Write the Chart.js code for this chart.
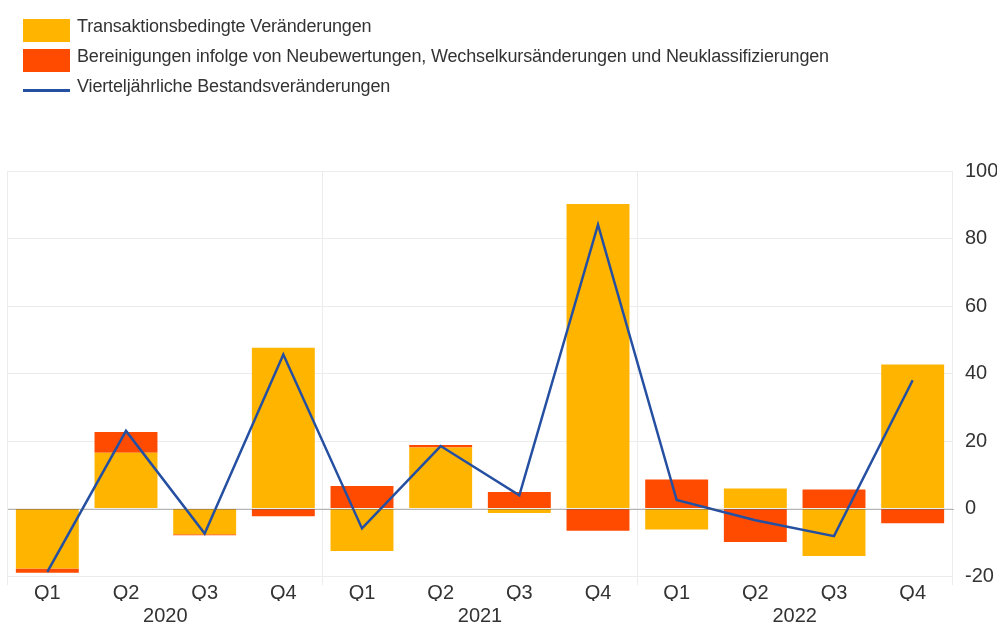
<!DOCTYPE html>
<html>
<head>
<meta charset="utf-8">
<script src="https://cdn.jsdelivr.net/npm/chart.js@4/dist/chart.umd.min.js"></script>
<style>
  html, body { margin: 0; padding: 0; background: #fff; width: 1004px; height: 626px; overflow: hidden; }
  #wrap { position: relative; width: 1004px; height: 640px; }
  #legend { position: absolute; left: 23px; top: 19px; font-family: "Liberation Sans", Arial, Helvetica, sans-serif; font-size: 18px; color: #333; }
  .item { position: relative; height: 30px; }
  .sw { position: absolute; left: 0; top: 0; width: 47px; height: 23px; }
  .tx { position: absolute; left: 54px; top: -3px; white-space: nowrap; letter-spacing: -0.15px; }
  canvas { position: absolute; left: 0; top: 0; }
</style>
</head>
<body>
<div id="wrap">
  <canvas id="c" width="1004" height="640"></canvas>
  <div id="legend"></div>
</div>
<script>
const quarters = ['Q1','Q2','Q3','Q4','Q1','Q2','Q3','Q4','Q1','Q2','Q3','Q4'];
const years = ['2020','2021','2022'];
const seriesNames = [
  'Transaktionsbedingte Veränderungen',
  'Bereinigungen infolge von Neubewertungen, Wechselkursänderungen und Neuklassifizierungen',
  'Vierteljährliche Bestandsveränderungen'
];
const transactions = [-17.8, 16.5, -7.6, 47.6, -12.6, 18.1, -1.3, 90.2, -6.2, 5.9, -14.1, 42.7];
const adjustments = [-1.2, 6.2, -0.3, -2.3, 6.7, 0.7, 4.9, -6.6, 8.6, -9.9, 5.6, -4.4];
const totalChange = [-18.8, 23.0, -7.4, 45.6, -5.9, 18.5, 3.9, 84.1, 2.5, -3.5, -8.2, 38.0];
const yTicks = { min: -20, max: 100, step: 20 };

const YELLOW = '#FFB400', RED = '#FF4B00', BLUE = '#2550A2';
const FONT = "'Liberation Sans', Arial, Helvetica, sans-serif";
const GRID = '#ececec';

const zeroLine = {
  id: 'zeroLine',
  afterDatasetsDraw(chart) {
    const y = chart.scales.y.getPixelForValue(0);
    const a = chart.chartArea;
    const ctx = chart.ctx;
    ctx.save();
    ctx.strokeStyle = 'rgba(90,90,90,0.45)';
    ctx.lineWidth = 1;
    ctx.beginPath();
    ctx.moveTo(a.left, Math.round(y) + 0.5);
    ctx.lineTo(a.right + 2, Math.round(y) + 0.5);
    ctx.stroke();
    ctx.restore();
  }
};

const chart = new Chart(document.getElementById('c'), {
  type: 'bar',
  data: {
    labels: quarters,
    datasets: [
      { type: 'line', label: seriesNames[2], data: totalChange, borderColor: BLUE, backgroundColor: BLUE,
        borderWidth: 2.5, pointRadius: 0, tension: 0, stack: 'line', order: 0 },
      { label: seriesNames[0], data: transactions, backgroundColor: YELLOW, stack: 'bars', order: 1,
        categoryPercentage: 0.8, barPercentage: 1.0 },
      { label: seriesNames[1], data: adjustments, backgroundColor: RED, stack: 'bars', order: 2,
        categoryPercentage: 0.8, barPercentage: 1.0 }
    ]
  },
  options: {
    responsive: false,
    animation: false,
    layout: { padding: { top: 171, left: 8, right: 7, bottom: 9 } },
    plugins: { legend: { display: false }, tooltip: { enabled: false } },
    scales: {
      x: {
        stacked: true,
        offset: true,
        weight: 0,
        border: { display: false },
        grid: {
          offset: true,
          drawTicks: true,
          tickLength: 9,
          color: (c) => (c.index === undefined || c.index % 4 === 0) ? GRID : 'rgba(0,0,0,0)'
        },
        ticks: { color: '#333', font: { family: FONT, size: 20 }, padding: -4, maxRotation: 0, autoSkip: false }
      },
      x2: {
        type: 'category',
        labels: years,
        position: 'bottom',
        offset: true,
        weight: 1,
        border: { display: false },
        grid: { display: false, drawTicks: false },
        ticks: { color: '#333', font: { family: FONT, size: 20 }, padding: 3, maxRotation: 0 }
      },
      y: {
        stacked: true,
        position: 'right',
        min: yTicks.min,
        max: yTicks.max,
        border: { display: false },
        grid: { color: GRID, drawTicks: false },
        ticks: { stepSize: yTicks.step, color: '#333', font: { family: FONT, size: 20 }, padding: 13 },
        afterFit(scale) { scale.width = 45; }
      }
    }
  },
  plugins: [zeroLine]
});

// HTML legend built from the chart's datasets
const legendOrder = [1, 2, 0];
const legend = document.getElementById('legend');
legendOrder.forEach((di) => {
  const ds = chart.data.datasets[di];
  const item = document.createElement('div');
  item.className = 'item';
  const mark = document.createElement('div');
  mark.className = 'sw';
  if (ds.type === 'line') {
    mark.style.height = '3px';
    mark.style.top = '10px';
  }
  mark.style.background = ds.backgroundColor;
  const tx = document.createElement('div');
  tx.className = 'tx';
  tx.textContent = ds.label;
  item.appendChild(mark);
  item.appendChild(tx);
  legend.appendChild(item);
});
</script>
</body>
</html>
